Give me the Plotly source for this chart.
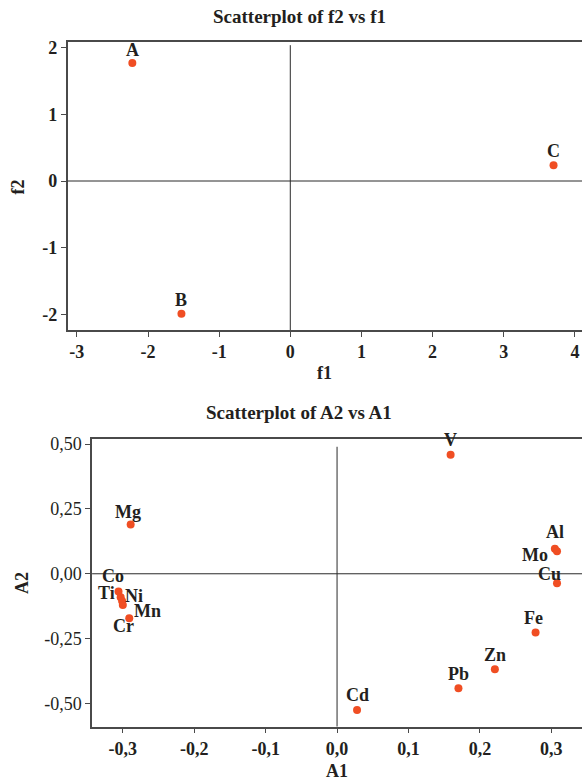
import plotly.graph_objects as go

# ---------------- data ----------------
f_labels = ["A", "B", "C"]
f1 = [-2.22, -1.53, 3.70]
f2 = [1.77, -1.99, 0.235]

f1_ticks = [-3, -2, -1, 0, 1, 2, 3, 4]
f1_tick_text = ["-3", "-2", "-1", "0", "1", "2", "3", "4"]
f2_ticks = [-2, -1, 0, 1, 2]
f2_tick_text = ["-2", "-1", "0", "1", "2"]

el_labels = ["V", "Mg", "Al", "Mo", "Cu", "Co", "Ti", "Ni", "Mn", "Cr", "Fe", "Zn", "Pb", "Cd"]
a1 = [0.159, -0.289, 0.305, 0.308, 0.308, -0.306, -0.303, -0.301, -0.300, -0.291, 0.278, 0.221, 0.170, 0.028]
a2 = [0.459, 0.190, 0.097, 0.087, -0.037, -0.068, -0.091, -0.105, -0.120, -0.172, -0.227, -0.368, -0.442, -0.526]

a1_ticks = [-0.3, -0.2, -0.1, 0.0, 0.1, 0.2, 0.3]
a1_tick_text = ["-0,3", "-0,2", "-0,1", "0,0", "0,1", "0,2", "0,3"]
a2_ticks = [-0.5, -0.25, 0.0, 0.25, 0.5]
a2_tick_text = ["-0,50", "-0,25", "0,00", "0,25", "0,50"]

# ---------------- styling ----------------
W, H = 582, 781
FONT = "Liberation Serif"
TXT = "#231F20"
DOT = "#F04E23"
LINE = "#4A4A4A"
REF = "#2A2A2A"

# label offsets in pixels (dx right, dy down) relative to each point
f_off = {"A": (0, -13), "B": (0, -14), "C": (0, -14)}
el_off = {
    "V": (0, -15), "Mg": (-3, -13), "Al": (0, -17), "Mo": (-22, 4), "Cu": (-8, -9),
    "Co": (-6, -15), "Ti": (-14, -4), "Ni": (12, -5), "Mn": (25, 6), "Cr": (-6, 8),
    "Fe": (-2, -15), "Zn": (0, -14), "Pb": (0, -14), "Cd": (0, -15),
}


def px_x(p):
    return p / W


def px_y(p):
    return 1 - p / H


fig = go.Figure()
fig.add_trace(go.Scatter(x=f1, y=f2, mode="markers", text=f_labels,
                         marker=dict(color=DOT, size=8, line=dict(width=0)),
                         xaxis="x", yaxis="y", hoverinfo="text+x+y"))
fig.add_trace(go.Scatter(x=a1, y=a2, mode="markers", text=el_labels,
                         marker=dict(color=DOT, size=8, line=dict(width=0)),
                         xaxis="x2", yaxis="y2", hoverinfo="text+x+y"))

bold = dict(family=FONT, size=18, color=TXT, weight="bold")
normal = dict(family=FONT, size=18, color=TXT)

axis_common = dict(showgrid=False, zeroline=False, showline=True, linecolor=LINE, linewidth=1.5,
                   ticks="outside", ticklen=5, tickwidth=1.2, tickcolor=LINE, automargin=False)

fig.update_layout(
    width=W, height=H, margin=dict(l=0, r=0, t=0, b=0, pad=0),
    paper_bgcolor="white", plot_bgcolor="white", showlegend=False,
    xaxis=dict(domain=[px_x(67.6), 1], range=[-3.13, 4.10], anchor="y",
               tickvals=f1_ticks, ticktext=f1_tick_text, tickfont=bold, mirror=True, **axis_common),
    yaxis=dict(domain=[px_y(330), px_y(42.3)], range=[-2.234, 2.08], anchor="x",
               tickvals=f2_ticks, ticktext=f2_tick_text, tickfont=bold, **axis_common),
    xaxis2=dict(domain=[px_x(92.1), 1], range=[-0.343, 0.343], anchor="y2",
                tickvals=a1_ticks, ticktext=a1_tick_text, tickfont=bold, mirror=True, **axis_common),
    yaxis2=dict(domain=[px_y(726.7), px_y(439)], range=[-0.590, 0.520], anchor="x2",
                tickvals=a2_ticks, ticktext=a2_tick_text, tickfont=normal, **axis_common),
)

# reference lines at zero
fig.add_shape(type="line", xref="x", yref="y domain", x0=0, x1=0, y0=0, y1=0.99,
              line=dict(color=REF, width=1))
fig.add_shape(type="line", xref="x domain", yref="y", x0=0, x1=1, y0=0, y1=0,
              line=dict(color=REF, width=1))
fig.add_shape(type="line", xref="x2", yref="y2", x0=0, x1=0, y0=-0.590, y1=0.49,
              line=dict(color=REF, width=1))
fig.add_shape(type="line", xref="x2 domain", yref="y2", x0=0, x1=1, y0=0, y1=0,
              line=dict(color=REF, width=1))

annotations = []
for lab, x, y in zip(f_labels, f1, f2):
    dx, dy = f_off[lab]
    annotations.append(dict(x=x, y=y, xref="x", yref="y", text=lab, showarrow=False,
                            xanchor="center", yanchor="middle",
                            xshift=dx, yshift=-dy, font=bold))
for lab, x, y in zip(el_labels, a1, a2):
    dx, dy = el_off[lab]
    annotations.append(dict(x=x, y=y, xref="x2", yref="y2", text=lab, showarrow=False,
                            xanchor="center", yanchor="middle",
                            xshift=dx, yshift=-dy, font=bold))

title_font = dict(family=FONT, size=19, color=TXT, weight="bold")
paper_text = [
    ("Scatterplot of f2 vs f1", 299, 16, 0, title_font),
    ("Scatterplot of A2 vs A1", 299, 412, 0, title_font),
    ("f1", 324.8, 373, 0, bold),
    ("f2", 17.6, 187, -90, bold),
    ("A1", 337, 771, 0, bold),
    ("A2", 22, 583, -90, bold),
]
for txt, x, y, ang, fnt in paper_text:
    annotations.append(dict(text=txt, x=px_x(x), y=px_y(y), xref="paper", yref="paper",
                            xanchor="center", yanchor="middle", showarrow=False,
                            textangle=ang, font=fnt))
fig.update_layout(annotations=annotations)

fig.write_html("out.html", config={"displayModeBar": False},
               post_script="document.body.style.margin='0';document.body.style.padding='0';")
